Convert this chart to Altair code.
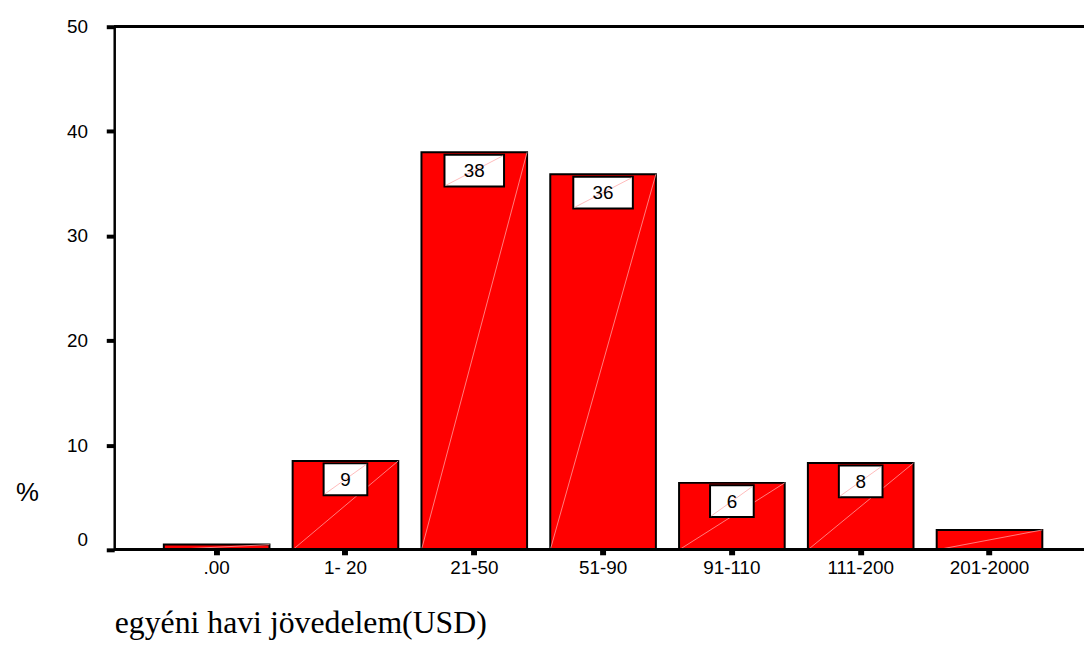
import altair as alt
import pandas as pd

categories = [".00", "1- 20", "21-50", "51-90", "91-110", "111-200", "201-2000"]
percents = [0.5, 8.5, 38.0, 35.9, 6.4, 8.3, 1.9]
labels = ["", "9", "38", "36", "6", "8", ""]
y_ticks = [0, 10, 20, 30, 40, 50]

df = pd.DataFrame({"cat": categories, "pct": percents, "label": labels})

W, H = 969, 527
AX_OFF = 8
xs = alt.Scale(domain=categories, paddingInner=0.18, paddingOuter=0.3236)
ys = alt.Scale(domain=[0, 50], nice=False, zero=True)
HALF_BAR = 53.2

base = alt.Chart(df)

x_axis = alt.Axis(
    labelFont="Liberation Sans", labelFontSize=19, labelColor="black", labelPadding=4,
    labelAngle=0, tickSize=5, tickWidth=6, tickColor="black",
    domain=False, grid=False,
    title="egyéni havi jövedelem(USD)", titleFont="Liberation Serif", titleFontSize=32,
    titleFontWeight="normal", titleColor="black", titleX=-AX_OFF, titleY=83,
    titleAlign="left", titleBaseline="alphabetic",
)
y_axis = alt.Axis(
    values=y_ticks, offset=AX_OFF, labelFont="Liberation Sans", labelFontSize=19,
    labelColor="black", labelPadding=19, tickSize=8, tickWidth=4, tickColor="black",
    labelBaseline=alt.condition("datum.value == 0", alt.value("bottom"), alt.value("middle")),
    domainColor="black", domainWidth=2.5, grid=False,
    title="%", titleAngle=0, titleX=-88, titleY=469.5, titleAlign="center",
    titleBaseline="middle", titleFont="Liberation Sans", titleFontSize=26,
    titleFontWeight="normal", titleColor="black",
)

bars = base.mark_bar(color="#ff0000", stroke="black", strokeWidth=2).encode(
    x=alt.X("cat:N", scale=xs, axis=x_axis, title="egyéni havi jövedelem(USD)"),
    y=alt.Y("pct:Q", scale=ys, axis=y_axis, title="%"),
)

diag = base.transform_calculate(zero="0").mark_rule(
    color="#ff9c9c", strokeWidth=0.8, xOffset=-HALF_BAR, x2Offset=HALF_BAR
).encode(
    x=alt.X("cat:N"),
    x2=alt.X2("cat"),
    y=alt.Y("zero:Q"),
    y2=alt.Y2("pct"),
)

lab = base.transform_filter("datum.label != ''").transform_calculate(
    bw="length(datum.label) > 1 ? 60 : 44"
)

boxes = lab.mark_bar(color="white", stroke="black", strokeWidth=2,
                     yOffset=2.5, y2Offset=34.5).encode(
    x=alt.X("cat:N"),
    y=alt.Y("pct:Q"),
    y2=alt.Y2("pct"),
    size=alt.Size("bw:Q", scale=None, legend=None),
)

def box_diag(cond, w):
    return lab.transform_filter(cond).mark_rule(
        color="#ffaaaa", strokeWidth=0.8, xOffset=-w / 2, x2Offset=w / 2,
        yOffset=33.5, y2Offset=3.5,
    ).encode(
        x=alt.X("cat:N"),
        x2=alt.X2("cat"),
        y=alt.Y("pct:Q"),
        y2=alt.Y2("pct"),
    )

diag1 = box_diag("length(datum.label) == 1", 42)
diag2 = box_diag("length(datum.label) == 2", 58)

texts = lab.mark_text(font="Liberation Sans", fontSize=19, baseline="middle", color="black",
                      yOffset=19).encode(
    x=alt.X("cat:N"),
    y=alt.Y("pct:Q"),
    text="label:N",
)

top_rule = base.mark_rule(color="black", strokeWidth=2.5).encode(
    y=alt.datum(50), x=alt.value(-AX_OFF), x2=alt.value(W)
)
bottom_rule = base.mark_rule(color="black", strokeWidth=2.5).encode(
    y=alt.datum(0), x=alt.value(-AX_OFF), x2=alt.value(W)
)

chart = alt.layer(bars, diag, boxes, diag1, diag2, texts, top_rule, bottom_rule).properties(
    width=W, height=H,
    background="white",
    autosize=alt.AutoSizeParams(type="none"),
    padding={"left": 115, "top": 16.5, "right": 0, "bottom": 90.5},
).configure_view(stroke="transparent", strokeWidth=0)

chart.save("out.html", embed_options={"renderer": "svg", "actions": False})
